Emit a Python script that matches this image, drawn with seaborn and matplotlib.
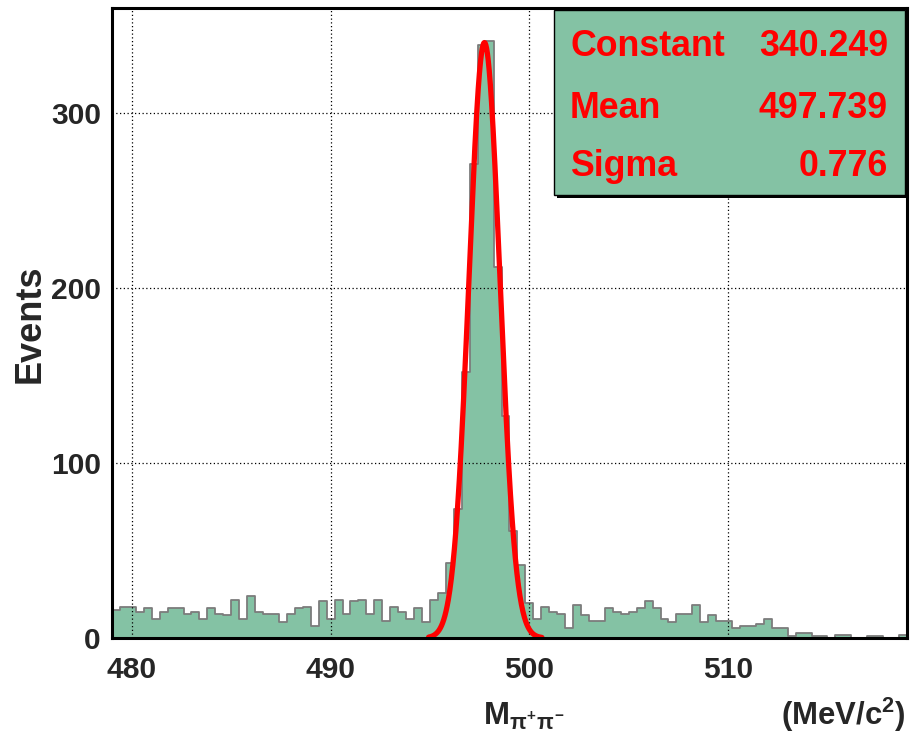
import numpy as np
import pandas as pd
import matplotlib
matplotlib.use("Agg")
import matplotlib.pyplot as plt
import matplotlib.font_manager as fm
import seaborn as sns
from matplotlib.patches import Rectangle

# ---------------- data ----------------
x_min, x_max, n_bins = 479.0, 519.0, 100
counts = [16, 18, 18, 15, 17, 11, 15, 17, 17, 14,
          15, 11, 17, 14, 13, 22, 11, 24, 15, 14,
          14, 9, 14, 17, 18, 7, 21, 11, 22, 14,
          21, 22, 14, 22, 10, 18, 15, 11, 17, 9,
          22, 26, 43, 74, 152, 271, 339, 341, 212, 127,
          61, 42, 20, 11, 18, 15, 14, 6, 19, 13,
          10, 10, 17, 15, 14, 15, 17, 21, 17, 11,
          9, 14, 14, 19, 9, 13, 10, 10, 6, 7,
          7, 8, 11, 6, 6, 1, 3, 3, 1, 1,
          0, 2, 2, 0, 0, 1, 1, 0, 0, 2]
fit_names = ["Constant", "Mean", "Sigma"]
fit_values = [340.249, 497.739, 0.776]
fit_labels = ["340.249", "497.739", "0.776"]
fit_range = [494.93, 500.63]
x_ticks = [480, 490, 500, 510]
y_ticks = [0, 100, 200, 300]

# ---------------- fonts ----------------
sns.set_theme(style="white")
narrow = None
for fam in ["Liberation Sans Narrow", "Arial Narrow", "Nimbus Sans Narrow"]:
    try:
        fm.findfont(fm.FontProperties(family=fam, weight="bold"), fallback_to_default=False)
        narrow = fam
        break
    except Exception:
        pass
if narrow is not None:
    NF = [narrow, "Liberation Sans", "DejaVu Sans"]
    k = 1.0
else:
    NF = ["Liberation Sans", "DejaVu Sans"]
    k = 0.83
plt.rcParams["font.family"] = NF
plt.rcParams["font.weight"] = "bold"
plt.rcParams["mathtext.fontset"] = "custom"
plt.rcParams["mathtext.rm"] = NF[0] + ":bold"
plt.rcParams["mathtext.it"] = NF[0] + ":bold"
plt.rcParams["mathtext.bf"] = NF[0] + ":bold"
plt.rcParams["mathtext.sf"] = NF[0] + ":bold"

W, H = 910, 741
fig = plt.figure(figsize=(W / 100, H / 100), dpi=100)
L, R, T, B = 112, 907, 8, 638
ax = fig.add_axes([L / W, 1 - B / H, (R - L) / W, (B - T) / H])

bw = (x_max - x_min) / n_bins
centers = x_min + bw * (np.arange(n_bins) + 0.5)
df = pd.DataFrame({"mass": centers, "events": np.array(counts, dtype=float)})

fill_col = "#84c2a4"
sns.histplot(data=df, x="mass", weights="events", binwidth=bw, binrange=(x_min, x_max),
             element="step", fill=True, color=fill_col, alpha=1.0, edgecolor="#7c7c7c",
             linewidth=1.3, ax=ax, zorder=2)

# gaussian fit curve
xf = np.linspace(fit_range[0], fit_range[1], 300)
yf = fit_values[0] * np.exp(-0.5 * ((xf - fit_values[1]) / fit_values[2]) ** 2)
sns.lineplot(x=xf, y=yf, color="#ff0000", linewidth=3.8, ax=ax, zorder=4)

ax.set_xlim(x_min, x_max)
ax.set_ylim(0, 360)
ax.set_xticks(x_ticks)
ax.set_yticks(y_ticks)
ax.set_xticks(np.arange(480, 519, 2), minor=True)
ax.set_yticks(np.arange(0, 361, 20), minor=True)
ax.tick_params(axis="both", which="major", direction="in", length=14, width=1.3,
               color="black", labelsize=26 * k, zorder=5)
ax.tick_params(axis="both", which="minor", direction="in", length=8, width=1.1,
               color="black", zorder=5)
ax.tick_params(axis="x", which="major", pad=13)
ax.tick_params(axis="y", which="major", pad=8)
for lab in ax.get_xticklabels() + ax.get_yticklabels():
    lab.set_fontweight("bold")
ax.grid(True, which="major", linestyle=(0, (1, 2)), color="black", linewidth=0.9)
ax.set_axisbelow(False)
for g in ax.get_xgridlines() + ax.get_ygridlines():
    g.set_zorder(3)
for s in ax.spines.values():
    s.set_color("black")
    s.set_linewidth(2.2)
    s.set_zorder(6)
ax.set_xlabel("")
ax.set_ylabel("")
fig.text(30 / W, 1 - 324 / H, "Events", rotation=90, fontsize=26,
         family=["Liberation Sans", "DejaVu Sans"], fontweight="bold",
         ha="center", va="center")

# stats box
bx0, bx1, by0, by1 = 554, 905, 10, 195
shadow = Rectangle(((bx0 + 3) / W, 1 - (by1 + 3) / H), (bx1 - bx0) / W, (by1 - by0) / H,
                   transform=fig.transFigure, facecolor="black", edgecolor="none", zorder=7)
box = Rectangle((bx0 / W, 1 - by1 / H), (bx1 - bx0) / W, (by1 - by0) / H,
                transform=fig.transFigure, facecolor=fill_col, edgecolor="black",
                linewidth=1.0, zorder=8)
fig.patches.extend([shadow, box])
rows_y = [47, 108, 166]
for name, lab, yy in zip(fit_names, fit_labels, rows_y):
    fig.text(570 / W, 1 - yy / H, name, color="#ff0000", fontsize=31 * k, fontweight="bold",
             ha="left", va="center", zorder=9)
    fig.text(888 / W, 1 - yy / H, lab, color="#ff0000", fontsize=31 * k, fontweight="bold",
             ha="right", va="center", zorder=9)

# axis titles
fig.text(483 / W, 1 - 716 / H, r"M$_{\pi^{+}\pi^{-}}$", fontsize=27 * k, fontweight="bold",
         ha="left", va="center")
fig.text(905 / W, 1 - 715 / H, r"(MeV/c$^{2}$)", fontsize=27 * k, fontweight="bold",
         ha="right", va="center")

fig.savefig("out.png", dpi=100)
